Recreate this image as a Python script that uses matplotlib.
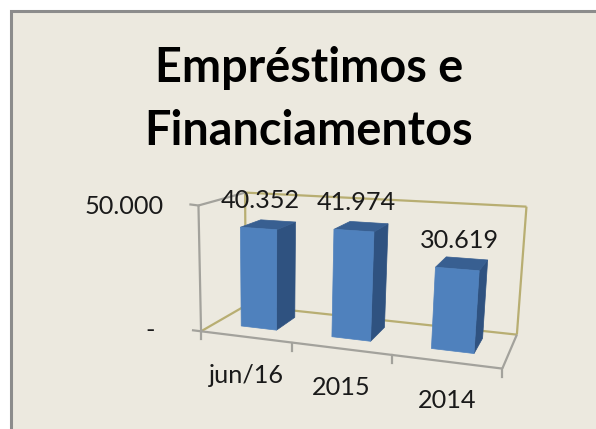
import numpy as np
import matplotlib
matplotlib.use("Agg")
import matplotlib.pyplot as plt
from matplotlib.patches import Rectangle

title_lines = ["Empréstimos e", "Financiamentos"]
categories = ["jun/16", "2015", "2014"]
values = [40352, 41974, 30619]
value_labels = ["40.352", "41.974", "30.619"]
axis_max = 50000
y_ticks = [0, 50000]
y_tick_labels = ["-", "50.000"]

W, H = 596, 429
BG = "#ECE9DF"
FRONT, SIDE, TOP = "#4F81BD", "#2F5280", "#385F91"
GRAY, OLIVE = "#A3A29C", "#B8AE72"
plt.rcParams["font.family"] = ["Lato", "DejaVu Sans"]

# Camera calibration: model space (category, value, depth) -> picture pixels
anchors = [
    ((0, 0, 0), (203.3, 329.0)), ((3, 0, 0), (501.7, 369.3)),
    ((0, 1, 0), (196.0, 205.0)), ((0, 0, 1), (243.0, 306.7)),
    ((3, 0, 1), (517.7, 332.7)), ((0, 1, 1), (247.7, 193.0)),
    ((3, 1, 1), (526.0, 206.7)), ((1, 0, 0), (292.7, 343.0)),
    ((2, 0, 0), (391.7, 356.7)),
]
A = []
for (x, y, z), (u, v) in anchors:
    A.append([x, y, z, 1, 0, 0, 0, 0, -u * x, -u * y, -u * z, -u])
    A.append([0, 0, 0, 0, x, y, z, 1, -v * x, -v * y, -v * z, -v])
P = np.linalg.svd(np.array(A))[2][-1].reshape(3, 4)


def project(x, val, z):
    h = P @ np.array([x, val / axis_max, z, 1.0])
    return h[0] / h[2], h[1] / h[2]


def face(ax, pts, color):
    xy = [project(*p) for p in pts]
    ax.fill(*zip(*xy), color=color, lw=0.5, zorder=3)


def seg(ax, a, b, color, lw=1.6, z=1):
    pa, pb = project(*a), project(*b)
    ax.plot([pa[0], pb[0]], [pa[1], pb[1]], color=color, lw=lw,
            solid_capstyle="butt", zorder=z)


fig = plt.figure(figsize=(W / 100, H / 100), dpi=100, facecolor="white")
ax = fig.add_axes([0, 0, 1, 1])
ax.set_xlim(0, W)
ax.set_ylim(H, 0)
ax.axis("off")

# chart-area frame
ax.add_patch(Rectangle((11, 11), W, H, fc=BG, ec="#8C8C8C", lw=2.2, zorder=0))

# walls and floor
top = axis_max
for a, b in [((0, 0, 1), (3, 0, 1)), ((3, 0, 1), (3, top, 1)),
             ((0, top, 1), (3, top, 1)), ((0, 0, 1), (0, top, 1)),
             ((0, 0, 0), (0, 0, 1))]:
    seg(ax, a, b, OLIVE)
for a, b in [((0, 0, 0), (3, 0, 0)), ((3, 0, 0), (3, 0, 1)),
             ((0, 0, 0), (0, top, 0)), ((0, top, 0), (0, top, 1))]:
    seg(ax, a, b, GRAY, z=2)

# tick marks
for i in range(len(categories) + 1):
    px, py = project(i, 0, 0)
    ax.plot([px, px], [py, py + 8], color=GRAY, lw=1.6, zorder=2)
for t in y_ticks:
    px, py = project(0, t, 0)
    ax.plot([px - 8, px], [py - 1, py], color=GRAY, lw=1.6, zorder=2)

# bars
gap, z0, z1 = 0.30, 0.30, 0.77
for i, v in enumerate(values):
    x0, x1 = i + gap, i + 1 - gap
    face(ax, [(x1, 0, z0), (x1, 0, z1), (x1, v, z1), (x1, v, z0)], SIDE)
    face(ax, [(x0, v, z0), (x1, v, z0), (x1, v, z1), (x0, v, z1)], TOP)
    face(ax, [(x0, 0, z0), (x1, 0, z0), (x1, v, z0), (x0, v, z0)], FRONT)
    ax.annotate(value_labels[i], project((x0 + x1) / 2, v, z0), xytext=(2, 28),
                textcoords="offset pixels", ha="center", va="center",
                fontsize=18.2, color="#1a1a1a", zorder=5)
    ax.annotate(categories[i], project(i + 0.5, 0, 0), xytext=(1, -39),
                textcoords="offset pixels", ha="center", va="center",
                fontsize=18.2, color="#1a1a1a", zorder=5)

# value axis labels
for t, lab in zip(y_ticks, y_tick_labels):
    ax.annotate(lab, project(0, t, 0), xytext=(-46 if t == 0 else -35, 1 if t == 0 else -1),
                textcoords="offset pixels", ha="right", va="center",
                fontsize=18.2, color="#1a1a1a", zorder=5)

# title
ax.text(309, 68, title_lines[0], ha="center", va="center", fontsize=33.7,
        fontweight="bold", color="black")
ax.text(309, 131, title_lines[1], ha="center", va="center", fontsize=33.7,
        fontweight="bold", color="black")

fig.savefig("out.png", dpi=100, facecolor="white")
